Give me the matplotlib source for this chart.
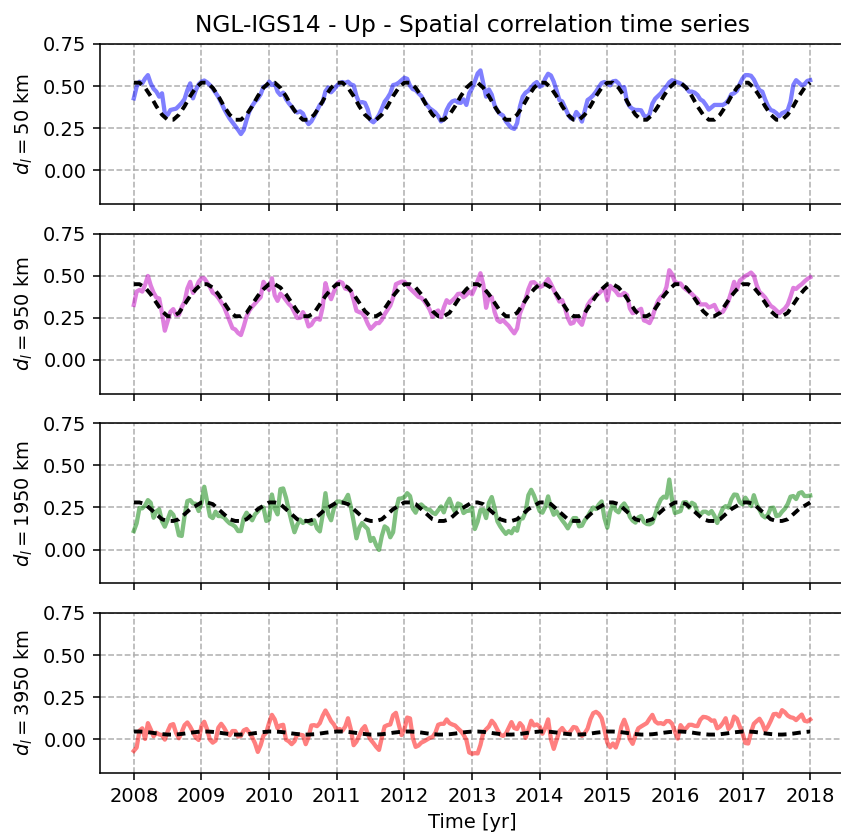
#Spatial correlation time series, one panel per distance class

from matplotlib import pyplot as plt
import numpy as np

#observed correlation, sampled every half month from 2008.0 to 2018.0
corr_50 = [0.427, 0.496, 0.526, 0.516, 0.545, 0.565, 0.516, 0.484, 0.467, 0.437,
           0.457, 0.339, 0.329, 0.358, 0.362, 0.366, 0.382, 0.40, 0.423, 0.476,
           0.516, 0.427, 0.476, 0.51, 0.526, 0.533, 0.522, 0.506, 0.486, 0.461,
           0.435, 0.402, 0.366, 0.335, 0.307, 0.285, 0.262, 0.24, 0.215, 0.24,
           0.299, 0.35, 0.382, 0.407, 0.425, 0.451, 0.496, 0.50, 0.526, 0.506,
           0.516, 0.467, 0.447, 0.461, 0.423, 0.398, 0.378, 0.354, 0.343, 0.35,
           0.337, 0.299, 0.274, 0.29, 0.321, 0.354, 0.388, 0.405, 0.469, 0.492,
           0.463, 0.48, 0.502, 0.516, 0.524, 0.518, 0.526, 0.51, 0.504, 0.441,
           0.40, 0.405, 0.40, 0.362, 0.297, 0.285, 0.303, 0.329, 0.366, 0.407,
           0.429, 0.457, 0.506, 0.51, 0.52, 0.535, 0.549, 0.543, 0.502, 0.482,
           0.476, 0.457, 0.441, 0.411, 0.388, 0.368, 0.356, 0.343, 0.321, 0.29,
           0.303, 0.358, 0.39, 0.409, 0.415, 0.403, 0.40, 0.421, 0.388, 0.457,
           0.486, 0.528, 0.575, 0.593, 0.516, 0.437, 0.48, 0.449, 0.386, 0.354,
           0.335, 0.325, 0.291, 0.27, 0.252, 0.246, 0.28, 0.378, 0.437, 0.461,
           0.472, 0.492, 0.512, 0.524, 0.496, 0.504, 0.545, 0.573, 0.563, 0.526,
           0.474, 0.417, 0.409, 0.372, 0.335, 0.309, 0.305, 0.346, 0.325, 0.289,
           0.352, 0.417, 0.429, 0.445, 0.467, 0.494, 0.518, 0.524, 0.514, 0.504,
           0.528, 0.531, 0.516, 0.482, 0.494, 0.407, 0.378, 0.364, 0.358, 0.358,
           0.356, 0.325, 0.315, 0.333, 0.396, 0.425, 0.441, 0.457, 0.48, 0.498,
           0.522, 0.535, 0.528, 0.522, 0.516, 0.504, 0.49, 0.467, 0.467, 0.461,
           0.447, 0.421, 0.411, 0.388, 0.36, 0.374, 0.388, 0.388, 0.388, 0.388,
           0.398, 0.417, 0.451, 0.457, 0.472, 0.512, 0.545, 0.565, 0.565, 0.561,
           0.539, 0.504, 0.476, 0.467, 0.421, 0.382, 0.358, 0.352, 0.339, 0.321,
           0.339, 0.346, 0.356, 0.407, 0.506, 0.535, 0.52, 0.504, 0.512, 0.531,
           0.535]
corr_950 = [0.327, 0.406, 0.416, 0.406, 0.446, 0.499, 0.442, 0.40, 0.371, 0.365,
            0.278, 0.174, 0.231, 0.286, 0.302, 0.266, 0.268, 0.314, 0.345, 0.424,
            0.464, 0.398, 0.424, 0.464, 0.485, 0.485, 0.46, 0.434, 0.40, 0.389,
            0.369, 0.343, 0.316, 0.274, 0.231, 0.189, 0.181, 0.16, 0.148, 0.199,
            0.258, 0.294, 0.316, 0.335, 0.355, 0.373, 0.464, 0.438, 0.416, 0.485,
            0.383, 0.351, 0.394, 0.377, 0.355, 0.333, 0.316, 0.282, 0.249, 0.25,
            0.284, 0.254, 0.199, 0.209, 0.237, 0.247, 0.239, 0.314, 0.456, 0.396,
            0.361, 0.406, 0.45, 0.465, 0.458, 0.424, 0.42, 0.412, 0.357, 0.292,
            0.284, 0.278, 0.254, 0.215, 0.185, 0.201, 0.219, 0.219, 0.239, 0.272,
            0.298, 0.323, 0.371, 0.45, 0.458, 0.465, 0.465, 0.446, 0.424, 0.408,
            0.392, 0.375, 0.369, 0.351, 0.327, 0.298, 0.256, 0.284, 0.294, 0.254,
            0.312, 0.355, 0.339, 0.353, 0.369, 0.392, 0.394, 0.373, 0.387, 0.406,
            0.389, 0.426, 0.471, 0.515, 0.448, 0.31, 0.379, 0.373, 0.286, 0.237,
            0.225, 0.237, 0.219, 0.203, 0.179, 0.158, 0.187, 0.276, 0.318, 0.361,
            0.42, 0.46, 0.462, 0.446, 0.432, 0.44, 0.458, 0.481, 0.452, 0.416,
            0.381, 0.347, 0.355, 0.308, 0.249, 0.215, 0.221, 0.258, 0.229, 0.209,
            0.266, 0.325, 0.351, 0.369, 0.383, 0.394, 0.412, 0.432, 0.355, 0.44,
            0.424, 0.408, 0.385, 0.385, 0.398, 0.385, 0.306, 0.278, 0.284, 0.294,
            0.304, 0.235, 0.229, 0.219, 0.254, 0.308, 0.351, 0.375, 0.389, 0.434,
            0.533, 0.509, 0.464, 0.456, 0.454, 0.432, 0.418, 0.406, 0.392, 0.375,
            0.361, 0.33, 0.33, 0.33, 0.312, 0.318, 0.327, 0.292, 0.278, 0.286,
            0.314, 0.351, 0.404, 0.464, 0.416, 0.471, 0.485, 0.499, 0.507, 0.519,
            0.501, 0.444, 0.404, 0.389, 0.371, 0.345, 0.321, 0.31, 0.294, 0.278,
            0.292, 0.306, 0.329, 0.375, 0.428, 0.422, 0.438, 0.45, 0.467, 0.481,
            0.491]
corr_1950 = [0.11, 0.156, 0.247, 0.245, 0.262, 0.294, 0.278, 0.189, 0.227, 0.239,
             0.168, 0.136, 0.178, 0.225, 0.207, 0.16, 0.085, 0.081, 0.199, 0.288,
             0.294, 0.274, 0.272, 0.229, 0.276, 0.373, 0.288, 0.199, 0.187, 0.225,
             0.199, 0.199, 0.191, 0.172, 0.156, 0.148, 0.136, 0.11, 0.11, 0.187,
             0.219, 0.195, 0.174, 0.209, 0.227, 0.25, 0.25, 0.17, 0.179, 0.327,
             0.243, 0.209, 0.359, 0.363, 0.308, 0.233, 0.164, 0.103, 0.148, 0.178,
             0.158, 0.172, 0.164, 0.152, 0.174, 0.126, 0.108, 0.205, 0.335, 0.209,
             0.174, 0.245, 0.284, 0.286, 0.278, 0.294, 0.325, 0.254, 0.166, 0.067,
             0.13, 0.158, 0.138, 0.122, 0.051, 0.069, 0.026, -0.002, 0.081, 0.138,
             0.126, 0.073, 0.103, 0.231, 0.302, 0.304, 0.312, 0.335, 0.318, 0.243,
             0.219, 0.26, 0.268, 0.252, 0.239, 0.237, 0.219, 0.211, 0.233, 0.256,
             0.221, 0.272, 0.302, 0.254, 0.223, 0.274, 0.266, 0.217, 0.229, 0.231,
             0.249, 0.122, 0.166, 0.235, 0.237, 0.187, 0.278, 0.312, 0.247, 0.168,
             0.138, 0.114, 0.093, 0.11, 0.097, 0.128, 0.112, 0.183, 0.185, 0.223,
             0.323, 0.355, 0.321, 0.274, 0.229, 0.219, 0.254, 0.316, 0.25, 0.207,
             0.227, 0.199, 0.174, 0.152, 0.126, 0.158, 0.187, 0.187, 0.138, 0.142,
             0.174, 0.195, 0.225, 0.25, 0.241, 0.268, 0.286, 0.187, 0.13, 0.223,
             0.274, 0.233, 0.221, 0.256, 0.274, 0.247, 0.195, 0.172, 0.16, 0.191,
             0.199, 0.164, 0.152, 0.15, 0.16, 0.207, 0.262, 0.298, 0.314, 0.308,
             0.416, 0.292, 0.217, 0.223, 0.229, 0.28, 0.282, 0.249, 0.278, 0.268,
             0.221, 0.207, 0.225, 0.225, 0.213, 0.229, 0.201, 0.158, 0.205, 0.245,
             0.258, 0.249, 0.298, 0.327, 0.325, 0.282, 0.268, 0.308, 0.284, 0.258,
             0.323, 0.27, 0.237, 0.203, 0.191, 0.207, 0.247, 0.249, 0.199, 0.203,
             0.225, 0.243, 0.27, 0.314, 0.318, 0.3, 0.335, 0.341, 0.318, 0.318,
             0.321]
corr_3950 = [-0.069, -0.049, 0.051, 0.065, 0.002, 0.096, 0.059, 0.018, 0.039, 0.029,
             0.025, -0.002, 0.047, 0.084, 0.09, 0.037, 0.006, 0.043, 0.084, 0.1,
             0.075, 0.043, 0.01, -0.004, 0.078, 0.104, 0.059, -0.002, -0.02, -0.008,
             0.069, 0.092, 0.069, 0.039, 0.024, 0.049, 0.049, 0.016, 0.02, 0.053,
             0.061, 0.039, 0.012, -0.024, -0.075, -0.035, 0.022, 0.039, 0.098, 0.145,
             0.118, 0.065, 0.082, 0.086, -0.002, -0.012, -0.029, -0.012, 0.029, 0.027,
             0.024, -0.029, 0.014, 0.082, 0.084, 0.078, 0.096, 0.139, 0.171, 0.141,
             0.108, 0.088, 0.055, 0.061, 0.051, 0.075, 0.125, 0.059, -0.035, -0.014,
             0.022, 0.059, 0.078, 0.031, -0.002, -0.022, -0.045, -0.063, 0.01, 0.076,
             0.084, 0.088, 0.143, 0.157, 0.088, 0.025, 0.059, 0.129, 0.124, 0.008,
             -0.045, -0.037, -0.02, -0.012, -0.002, 0.008, 0.014, 0.039, 0.086, 0.092,
             0.092, 0.118, 0.096, 0.088, 0.082, 0.065, 0.049, 0.027, -0.004, -0.078,
             -0.086, -0.082, -0.084, -0.033, 0.039, 0.059, 0.076, 0.11, 0.09, 0.057,
             0.027, 0.02, 0.033, 0.067, 0.102, 0.067, 0.061, 0.096, 0.076, 0.008,
             0.057, 0.11, 0.082, 0.088, 0.076, 0.033, 0.069, 0.118, 0.0, -0.057,
             -0.004, 0.049, 0.067, 0.043, 0.033, 0.049, 0.073, 0.069, 0.037, 0.02,
             0.037, 0.063, 0.118, 0.155, 0.163, 0.151, 0.125, 0.057, -0.02, -0.047,
             -0.025, -0.049, -0.002, 0.076, 0.116, 0.071, 0.0, -0.027, 0.024, 0.065,
             0.076, 0.086, 0.096, 0.122, 0.145, 0.106, 0.094, 0.096, 0.09, 0.108,
             0.108, 0.092, 0.045, 0.004, 0.084, 0.061, 0.065, 0.086, 0.086, 0.08,
             0.078, 0.116, 0.133, 0.131, 0.124, 0.11, 0.112, 0.065, 0.075, 0.096,
             0.125, 0.061, 0.08, 0.135, 0.122, 0.076, 0.035, -0.022, -0.025, 0.041,
             0.092, 0.108, 0.122, 0.094, 0.051, 0.076, 0.11, 0.149, 0.151, 0.135,
             0.173, 0.161, 0.141, 0.131, 0.127, 0.114, 0.131, 0.147, 0.11, 0.106,
             0.118]

#fitted seasonal model, read monthly from 2008.0 to 2018.0
fit_50 = [0.52, 0.52, 0.49, 0.44, 0.38, 0.33, 0.30, 0.30, 0.33, 0.38, 0.44, 0.49,
          0.52, 0.52, 0.49, 0.44, 0.38, 0.33, 0.30, 0.30, 0.33, 0.38, 0.44, 0.49,
          0.52, 0.52, 0.49, 0.44, 0.38, 0.33, 0.30, 0.30, 0.33, 0.38, 0.44, 0.49,
          0.52, 0.52, 0.49, 0.44, 0.38, 0.33, 0.30, 0.30, 0.33, 0.38, 0.44, 0.49,
          0.52, 0.52, 0.49, 0.44, 0.38, 0.33, 0.30, 0.30, 0.33, 0.38, 0.44, 0.49,
          0.52, 0.52, 0.49, 0.44, 0.38, 0.33, 0.30, 0.30, 0.33, 0.38, 0.44, 0.49,
          0.52, 0.52, 0.49, 0.44, 0.38, 0.33, 0.30, 0.30, 0.33, 0.38, 0.44, 0.49,
          0.52, 0.52, 0.49, 0.44, 0.38, 0.33, 0.30, 0.30, 0.33, 0.38, 0.44, 0.49,
          0.52, 0.52, 0.49, 0.44, 0.38, 0.33, 0.30, 0.30, 0.33, 0.38, 0.44, 0.49,
          0.52, 0.52, 0.49, 0.44, 0.38, 0.33, 0.30, 0.30, 0.33, 0.38, 0.44, 0.49,
          0.52]
fit_950 = [0.45, 0.45, 0.43, 0.39, 0.34, 0.29, 0.26, 0.26, 0.28, 0.33, 0.38, 0.42,
           0.45, 0.45, 0.43, 0.39, 0.34, 0.29, 0.26, 0.26, 0.28, 0.33, 0.38, 0.42,
           0.45, 0.45, 0.43, 0.39, 0.34, 0.29, 0.26, 0.26, 0.28, 0.33, 0.38, 0.42,
           0.45, 0.45, 0.43, 0.39, 0.34, 0.29, 0.26, 0.26, 0.28, 0.33, 0.38, 0.42,
           0.45, 0.45, 0.43, 0.39, 0.34, 0.29, 0.26, 0.26, 0.28, 0.33, 0.38, 0.42,
           0.45, 0.45, 0.43, 0.39, 0.34, 0.29, 0.26, 0.26, 0.28, 0.33, 0.38, 0.42,
           0.45, 0.45, 0.43, 0.39, 0.34, 0.29, 0.26, 0.26, 0.28, 0.33, 0.38, 0.42,
           0.45, 0.45, 0.43, 0.39, 0.34, 0.29, 0.26, 0.26, 0.28, 0.33, 0.38, 0.42,
           0.45, 0.45, 0.43, 0.39, 0.34, 0.29, 0.26, 0.26, 0.28, 0.33, 0.38, 0.42,
           0.45, 0.45, 0.43, 0.39, 0.34, 0.29, 0.26, 0.26, 0.28, 0.33, 0.38, 0.42,
           0.45]
fit_1950 = [0.28, 0.28, 0.27, 0.24, 0.21, 0.18, 0.17, 0.17, 0.18, 0.21, 0.24, 0.26,
            0.28, 0.28, 0.27, 0.24, 0.21, 0.18, 0.17, 0.17, 0.18, 0.21, 0.24, 0.26,
            0.28, 0.28, 0.27, 0.24, 0.21, 0.18, 0.17, 0.17, 0.18, 0.21, 0.24, 0.26,
            0.28, 0.28, 0.27, 0.24, 0.21, 0.18, 0.17, 0.17, 0.18, 0.21, 0.24, 0.26,
            0.28, 0.28, 0.27, 0.24, 0.21, 0.18, 0.17, 0.17, 0.18, 0.21, 0.24, 0.26,
            0.28, 0.28, 0.27, 0.24, 0.21, 0.18, 0.17, 0.17, 0.18, 0.21, 0.24, 0.26,
            0.28, 0.28, 0.27, 0.24, 0.21, 0.18, 0.17, 0.17, 0.18, 0.21, 0.24, 0.26,
            0.28, 0.28, 0.27, 0.24, 0.21, 0.18, 0.17, 0.17, 0.18, 0.21, 0.24, 0.26,
            0.28, 0.28, 0.27, 0.24, 0.21, 0.18, 0.17, 0.17, 0.18, 0.21, 0.24, 0.26,
            0.28, 0.28, 0.27, 0.24, 0.21, 0.18, 0.17, 0.17, 0.18, 0.21, 0.24, 0.26,
            0.28]
fit_3950 = [0.046, 0.046, 0.044, 0.040, 0.035, 0.031, 0.028, 0.028, 0.030, 0.034, 0.039, 0.043,
            0.046, 0.046, 0.044, 0.040, 0.035, 0.031, 0.028, 0.028, 0.030, 0.034, 0.039, 0.043,
            0.046, 0.046, 0.044, 0.040, 0.035, 0.031, 0.028, 0.028, 0.030, 0.034, 0.039, 0.043,
            0.046, 0.046, 0.044, 0.040, 0.035, 0.031, 0.028, 0.028, 0.030, 0.034, 0.039, 0.043,
            0.046, 0.046, 0.044, 0.040, 0.035, 0.031, 0.028, 0.028, 0.030, 0.034, 0.039, 0.043,
            0.046, 0.046, 0.044, 0.040, 0.035, 0.031, 0.028, 0.028, 0.030, 0.034, 0.039, 0.043,
            0.046, 0.046, 0.044, 0.040, 0.035, 0.031, 0.028, 0.028, 0.030, 0.034, 0.039, 0.043,
            0.046, 0.046, 0.044, 0.040, 0.035, 0.031, 0.028, 0.028, 0.030, 0.034, 0.039, 0.043,
            0.046, 0.046, 0.044, 0.040, 0.035, 0.031, 0.028, 0.028, 0.030, 0.034, 0.039, 0.043,
            0.046, 0.046, 0.044, 0.040, 0.035, 0.031, 0.028, 0.028, 0.030, 0.034, 0.039, 0.043,
            0.046]

distances = [50, 950, 1950, 3950]
colors = ['b', 'm', 'g', 'r']
observed = [corr_50, corr_950, corr_1950, corr_3950]
fitted = [fit_50, fit_950, fit_1950, fit_3950]

t_obs = 2008 + np.arange(len(corr_50)) / 24
t_fit = 2008 + np.arange(len(fit_50)) / 12

fig = plt.figure(figsize=(841/140, 839/140), dpi=140)

#panel bottoms in figure fraction, right edge runs past the figure like the original
bottoms = [0.7569, 0.5308, 0.3048, 0.0787]
axes = []
for i in range(4):
    ax = fig.add_axes([0.1189, bottoms[i], 0.8847, 0.1907])
    ax.plot(t_obs, observed[i], color=colors[i], alpha=0.5, lw=2.2)
    ax.plot(t_fit, fitted[i], color='k', ls=(0, (2.2, 1.5)), lw=2)
    ax.set_xlim(2007.5, 2018.5)
    ax.set_ylim(-0.2, 0.75)
    ax.set_yticks([0.0, 0.25, 0.5, 0.75])
    ax.set_xticks(range(2008, 2019))
    ax.set_ylabel(r'$d_l = %d$ km' % distances[i])
    ax.grid(True, linestyle='--')
    if i < 3:
        ax.tick_params(labelbottom=False)
    axes.append(ax)

axes[0].set_title('NGL-IGS14 - Up - Spatial correlation time series', fontsize=12)
axes[3].set_xlabel('Time [yr]')

plt.savefig('out.png', dpi=140)
